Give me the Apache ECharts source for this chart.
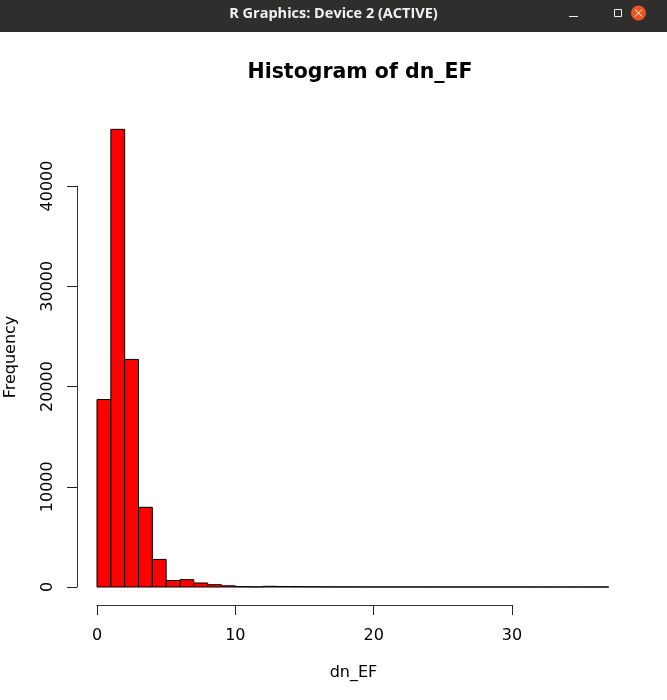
<!DOCTYPE html>
<html>
<head>
<meta charset="utf-8">
<style>html,body{margin:0;padding:0;background:#fff}#c{width:667px;height:700px}</style>
<script src="https://cdn.jsdelivr.net/npm/echarts@6/dist/echarts.min.js"></script>
</head>
<body>
<div id="c"></div>
<script>
var binStarts = [0,1,2,3,4,5,6,7,8,9,10,11,12,13,14,15,16,17,18,19,20,21,22,23,24,25,26,27,28,29,30,31,32,33,34,35,36];
var frequency = [18700,45650,22700,7950,2750,650,730,400,230,120,40,15,70,50,40,25,15,12,10,8,6,6,5,4,4,3,3,2,2,2,2,1,1,1,1,1,1];
var xTicks = [0,10,20,30];
var yTicks = [0,10000,20000,30000,40000];
var mainTitle = 'Histogram of dn_EF';
var xName = 'dn_EF';
var yName = 'Frequency';
var windowTitle = 'R Graphics: Device 2 (ACTIVE)';

var font = '"DejaVu Sans", sans-serif';
var chart = echarts.init(document.getElementById('c'), null, {renderer: 'canvas'});
var axisLine = {show: true, onZero: false, lineStyle: {color: '#333', width: 1}};
var axisTick = {show: true, length: 10, lineStyle: {color: '#222', width: 1}};
chart.setOption({
  animation: false,
  backgroundColor: '#fff',
  title: {
    text: mainTitle, left: 355, top: 57, textAlign: 'center',
    textStyle: {fontFamily: font, fontSize: 20.5, fontWeight: 'bold', color: '#000'}
  },
  grid: {left: 97, top: 186, width: 415, height: 401},
  xAxis: {
    type: 'value', min: 0, max: 30, interval: 10, offset: 18,
    splitLine: {show: false}, axisLine: axisLine, axisTick: axisTick,
    axisLabel: {color: '#000', fontFamily: font, fontSize: 16, margin: 23, formatter: function (v) { return String(v); }}
  },
  yAxis: {
    type: 'value', min: 0, max: 40000, interval: 10000, offset: 20,
    splitLine: {show: false}, axisLine: axisLine, axisTick: axisTick,
    axisLabel: {color: '#000', fontFamily: font, fontSize: 16, rotate: 90, margin: 21, align: 'center', verticalAlign: 'bottom', formatter: function (v) { return String(v); }}
  },
  series: [{
    type: 'custom',
    clip: false,
    silent: true,
    data: binStarts.map(function (s, i) { return [s, s + 1, frequency[i]]; }),
    encode: {x: [0, 1], y: 2},
    renderItem: function (params, api) {
      var a = api.coord([api.value(0), 0]);
      var b = api.coord([api.value(1), api.value(2)]);
      return {
        type: 'rect',
        shape: {x: a[0], y: b[1], width: b[0] - a[0], height: a[1] - b[1]},
        style: {fill: '#ff0000', stroke: '#000', lineWidth: 1}
      };
    }
  }],
  graphic: [
    {type: 'rect', shape: {x: 0, y: 0, width: 667, height: 32}, style: {fill: '#302d2d'}},
    {type: 'text', x: 333.5, y: 14, style: {text: windowTitle, fill: '#f2f2f2', font: 'bold 14.5px "Open Sans", sans-serif', textAlign: 'center', textVerticalAlign: 'middle'}},
    {type: 'rect', shape: {x: 569, y: 16, width: 9, height: 1}, style: {fill: '#eeeeee'}},
    {type: 'rect', shape: {x: 614.5, y: 9.5, width: 7, height: 7}, style: {fill: 'none', stroke: '#eeeeee', lineWidth: 1}},
    {type: 'circle', shape: {cx: 638.5, cy: 13, r: 7.5}, style: {fill: '#e95420'}},
    {type: 'line', shape: {x1: 635, y1: 9.5, x2: 642, y2: 16.5}, style: {stroke: '#fff', lineWidth: 1}},
    {type: 'line', shape: {x1: 642, y1: 9.5, x2: 635, y2: 16.5}, style: {stroke: '#fff', lineWidth: 1}},
    {type: 'text', x: 353.5, y: 673, style: {text: xName, fill: '#000', font: '16px "DejaVu Sans", sans-serif', textAlign: 'center', textVerticalAlign: 'middle'}},
    {type: 'text', x: 10.5, y: 357, rotation: Math.PI / 2, style: {text: yName, fill: '#000', font: '16px "DejaVu Sans", sans-serif', textAlign: 'center', textVerticalAlign: 'middle'}}
  ]
});
</script>
</body>
</html>
